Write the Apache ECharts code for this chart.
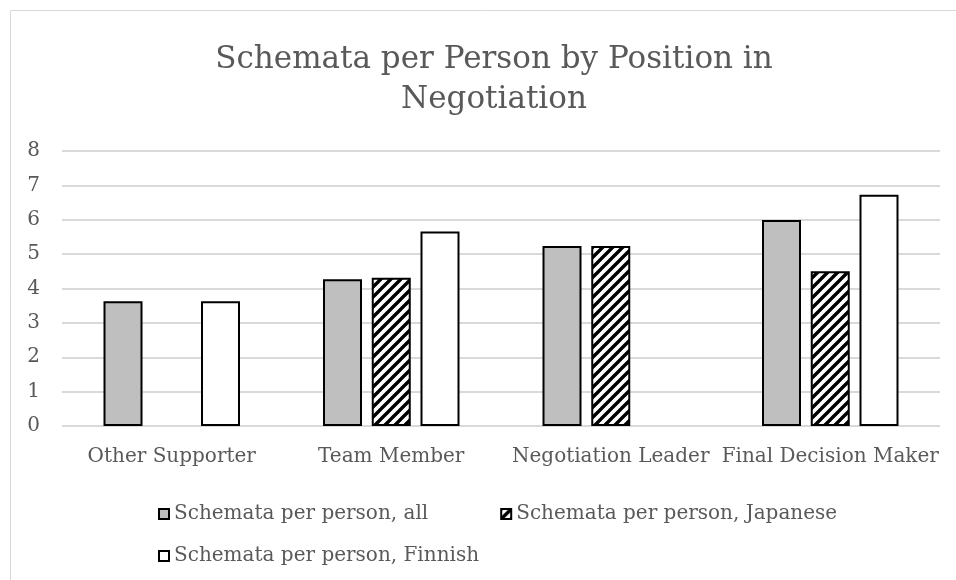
<!DOCTYPE html>
<html><head><meta charset="utf-8">
<script src="https://cdn.jsdelivr.net/npm/echarts@6/dist/echarts.min.js"></script>
<style>html,body{margin:0;padding:0;background:#fff}#c{width:956px;height:580px}</style>
</head><body><div id="c"></div>
<script>
var categories = ['Other Supporter', 'Team Member', 'Negotiation Leader', 'Final Decision Maker'];
var seriesNames = ['Schemata per person, all', 'Schemata per person, Japanese', 'Schemata per person, Finnish'];
var valuesAll = [3.63, 4.27, 5.24, 5.99];
var valuesJapanese = [null, 4.31, 5.24, 4.5];
var valuesFinnish = [3.63, 5.66, null, 6.73];
var yTicks = [0, 1, 2, 3, 4, 5, 6, 7, 8];

var FONT = "'DejaVu Serif', serif";
var TXT = '#595959';

var hc = document.createElement('canvas');
hc.width = 10; hc.height = 10;
var g = hc.getContext('2d');
g.fillStyle = '#fff'; g.fillRect(0, 0, 10, 10);
g.strokeStyle = '#000'; g.lineWidth = 3.4;
g.beginPath();
g.moveTo(-1, 11); g.lineTo(11, -1);
g.moveTo(-1, 1); g.lineTo(1, -1);
g.moveTo(9, 11); g.lineTo(11, 9);
g.stroke();

var chart = echarts.init(document.getElementById('c'), null, {renderer: 'canvas'});
function bar(name, data, color) {
  return {
    name: name, type: 'bar', data: data, barWidth: 39, barGap: '25%',
    itemStyle: {color: color, borderColor: '#000', borderWidth: 2},
    emphasis: {disabled: true}
  };
}
var legendText = {fontFamily: FONT, fontSize: 20, color: TXT};
chart.setOption({
  animation: false,
  graphic: [{type: 'rect', shape: {x: 10.5, y: 10.5, width: 1000, height: 1000}, style: {fill: 'none', stroke: '#d9d9d9', lineWidth: 1}, z: -10}],
  title: {
    text: 'Schemata per Person by Position in\nNegotiation',
    left: 489, top: 35, textAlign: 'center',
    textStyle: {fontFamily: FONT, fontSize: 31, fontWeight: 'normal', color: TXT, lineHeight: 40}
  },
  legend: [{
    data: [seriesNames[0], seriesNames[1]], left: 153, top: 499, itemWidth: 10, itemHeight: 10, itemGap: 72,
    icon: 'rect', textStyle: legendText, selectedMode: false
  }, {
    data: [seriesNames[2]], left: 153, top: 541, itemWidth: 10, itemHeight: 10,
    icon: 'rect', textStyle: legendText, selectedMode: false
  }],
  grid: {left: 62, right: 16, top: 151, bottom: 154, containLabel: false},
  xAxis: {
    type: 'category', data: categories,
    axisLine: {show: false}, axisTick: {show: false},
    axisLabel: {fontFamily: FONT, fontSize: 20, color: TXT, margin: 21, interval: 0}
  },
  yAxis: {
    type: 'value', min: yTicks[0], max: yTicks[yTicks.length - 1], interval: 1,
    axisLine: {show: false}, axisTick: {show: false},
    axisLabel: {fontFamily: FONT, fontSize: 20, color: TXT, margin: 22},
    splitLine: {lineStyle: {color: '#d9d9d9', width: 2}}
  },
  series: [
    bar(seriesNames[0], valuesAll, '#bfbfbf'),
    bar(seriesNames[1], valuesJapanese, {image: hc, repeat: 'repeat'}),
    bar(seriesNames[2], valuesFinnish, '#ffffff')
  ]
});
</script></body></html>
